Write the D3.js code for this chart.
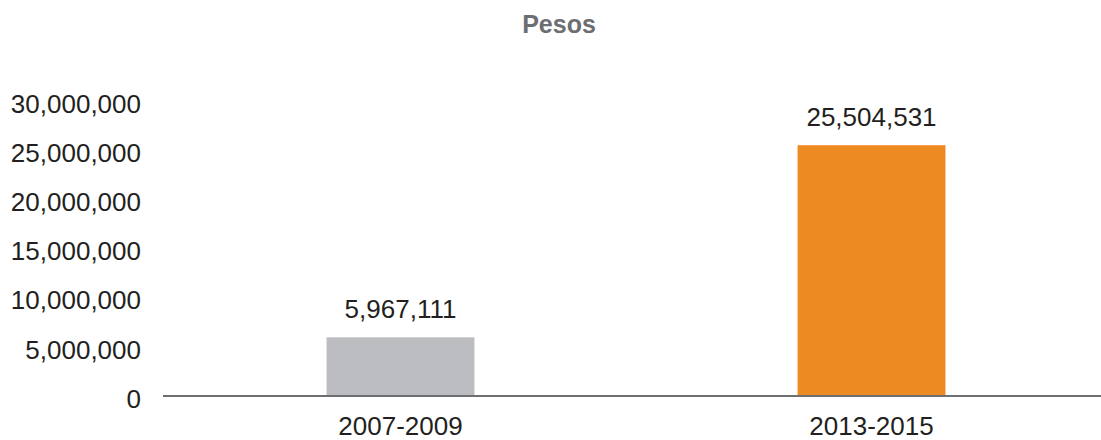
<!DOCTYPE html>
<meta charset="utf-8">
<script src="https://cdn.jsdelivr.net/npm/d3@7"></script>
<style>
body { margin: 0; background: #fff; }
text { font-family: "Liberation Sans", Arial, sans-serif; fill: #231f20; }
.title { font-weight: bold; fill: #6d6e71; }
</style>
<body>
<script>

// data
var categories = ["2007-2009", "2013-2015"];
var values = [5967111, 25504531];
var barColors = ["#bcbdc0", "#ee8a22"];
var yTicks = [0, 5000000, 10000000, 15000000, 20000000, 25000000, 30000000];
var title = "Pesos";

var width = 1101,
    height = 440;

var svg = d3.select("body").append("svg")
    .attr("width", width)
    .attr("height", height);

var y = d3.scaleLinear().domain([0, 30000000]).range([396, 101]);
var x = d3.scaleBand().domain(categories).range([165, 1107]);
var barW = x.bandwidth() * 0.314;
var fmt = d3.format(",");

// title
svg.append("text")
    .attr("class", "title")
    .attr("x", 559)
    .attr("y", 33)
    .attr("text-anchor", "middle")
    .style("font-size", "25px")
    .text(title);

// y axis labels (no line, no ticks)
var yAxis = d3.axisLeft(y).tickValues(yTicks).tickFormat(fmt).tickSize(0).tickPadding(0);
var ya = svg.append("g")
    .attr("transform", "translate(141,3)")
    .call(yAxis);
ya.select(".domain").remove();
ya.selectAll("text")
    .style("font-size", "26px")
    .style("font-family", "'Liberation Sans', Arial, sans-serif")
    .attr("fill", "#231f20");

// bars
svg.selectAll("rect.bar")
    .data(values)
  .enter().append("rect")
    .attr("class", "bar")
    .attr("x", function(d, i) { return x(categories[i]) + x.bandwidth() / 2 - barW / 2; })
    .attr("y", function(d) { return y(d); })
    .attr("width", barW)
    .attr("height", function(d) { return y(0) - y(d); })
    .attr("fill", function(d, i) { return barColors[i]; });

// value labels
svg.selectAll("text.val")
    .data(values)
  .enter().append("text")
    .attr("class", "val")
    .attr("x", function(d, i) { return x(categories[i]) + x.bandwidth() / 2; })
    .attr("y", function(d) { return y(d) - 19; })
    .attr("text-anchor", "middle")
    .style("font-size", "26px")
    .text(function(d) { return fmt(d); });

// baseline
svg.append("line")
    .attr("x1", 163)
    .attr("x2", width)
    .attr("y1", y(0))
    .attr("y2", y(0))
    .attr("stroke", "#6d6e71")
    .attr("stroke-width", 2);

// category labels
svg.selectAll("text.cat")
    .data(categories)
  .enter().append("text")
    .attr("class", "cat")
    .attr("x", function(d) { return x(d) + x.bandwidth() / 2; })
    .attr("y", 435)
    .attr("text-anchor", "middle")
    .style("font-size", "26px")
    .text(function(d) { return d; });

</script>
</body>
</html>
